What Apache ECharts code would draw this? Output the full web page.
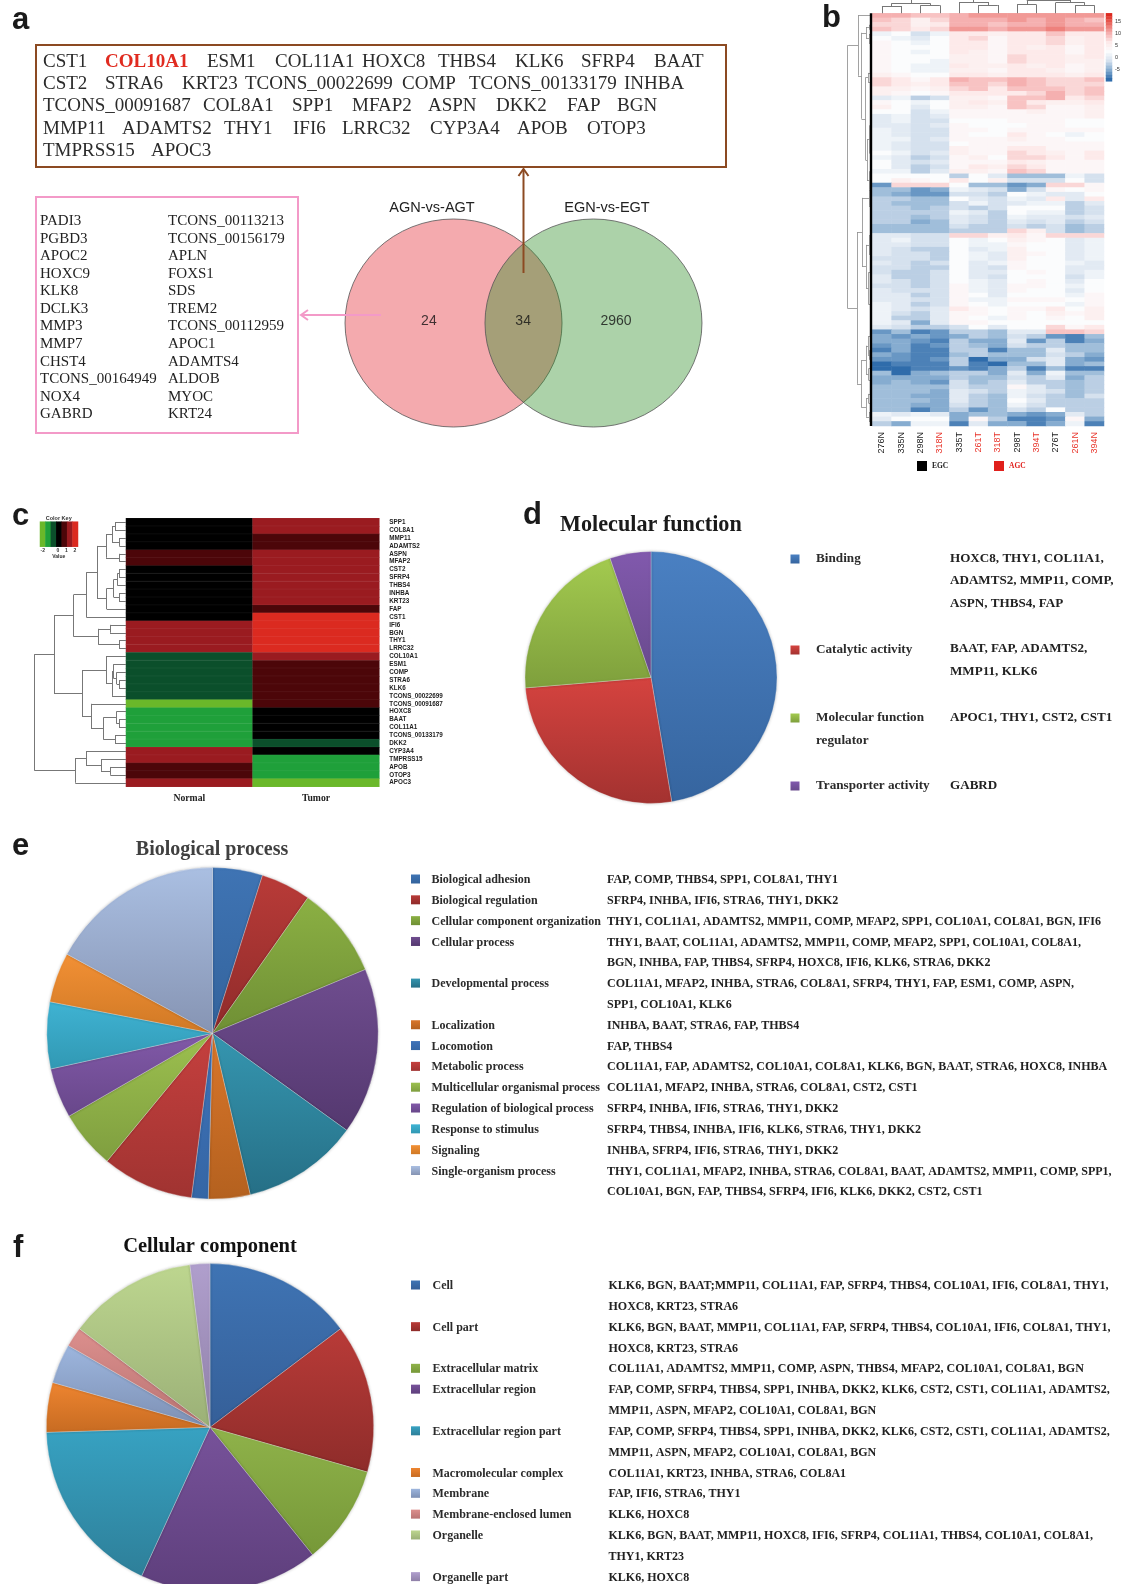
<!DOCTYPE html>
<html>
<head>
<meta charset="utf-8">
<title>Figure</title>
<script src="https://cdn.jsdelivr.net/npm/echarts@6/dist/echarts.min.js"></script>
<style>
html, body { margin: 0; padding: 0; background: #fff; }
#main { width: 1121px; height: 1584px; }
</style>
</head>
<body>
<div id="main"></div>
<script>
// panel a
const sharedGeneLines = [
    ['CST1', 'COL10A1', 'ESM1', 'COL11A1', 'HOXC8', 'THBS4', 'KLK6', 'SFRP4', 'BAAT'],
    ['CST2', 'STRA6', 'KRT23', 'TCONS_00022699', 'COMP', 'TCONS_00133179', 'INHBA'],
    ['TCONS_00091687', 'COL8A1', 'SPP1', 'MFAP2', 'ASPN', 'DKK2', 'FAP', 'BGN'],
    ['MMP11', 'ADAMTS2', 'THY1', 'IFI6', 'LRRC32', 'CYP3A4', 'APOB', 'OTOP3'],
    ['TMPRSS15', 'APOC3']
];
const agcGenesLeft = ['PADI3', 'PGBD3', 'APOC2', 'HOXC9', 'KLK8', 'DCLK3', 'MMP3', 'MMP7', 'CHST4', 'TCONS_00164949', 'NOX4', 'GABRD'];
const agcGenesRight = ['TCONS_00113213', 'TCONS_00156179', 'APLN', 'FOXS1', 'SDS', 'TREM2', 'TCONS_00112959', 'APOC1', 'ADAMTS4', 'ALDOB', 'MYOC', 'KRT24'];
const vennSets = ['AGN-vs-AGT', 'EGN-vs-EGT'];
const vennCounts = [24, 34, 2960];

// panel b
const bSamples = ['276N', '335N', '298N', '318N', '335T', '261T', '318T', '298T', '394T', '276T', '261N', '394N'];
const bRedSamples = ['318N', '261T', '318T', '394T', '261N', '394N'];
const bScaleTicks = [15, 10, 5, 0, -5];
const bScaleValues = [15, 14, 13, 12, 11, 10, 9, 8, 7, 6, 5, 4, 3, 2, 1, 0, -1, -2, -3, -4, -5, -6];
const bRows = [
    [9,9,8,8, 9,10,10,10,10,10,10,10],
    [8,7,5,7, 9,9,9,10,9,10,9,8],
    [7,7,5,6, 9,9,8,9,9,10,9,9],
    [8,7,6,7, 10,10,9,10,10,11,10,10],
    [2,3,0,2, 6,6,5,6,6,8,6,6],
    [3,2,1,3, 6,7,4,6,6,7,5,6],
    [4,3,2,3, 6,6,4,6,6,7,5,6],
    [4,3,3,3, 6,6,4,6,5,6,4,6],
    [4,3,2,3, 6,5,4,6,6,6,4,6],
    [4,3,3,3, 5,5,4,7,6,6,5,6],
    [4,3,3,2, 5,5,4,7,6,6,5,5],
    [4,3,2,2, 6,5,5,6,5,6,4,5],
    [4,3,2,2, 5,5,4,6,6,5,4,5],
    [5,4,3,3, 6,6,5,6,6,6,5,6],
    [7,6,4,6, 9,8,8,9,8,7,7,8],
    [7,6,5,6, 8,8,7,9,8,7,7,7],
    [5,5,4,5, 7,8,6,8,8,8,7,8],
    [5,4,3,4, 6,6,6,6,7,9,7,8],
    [1,2,-1,0, 5,5,4,8,8,9,6,7],
    [4,3,2,3, 5,6,5,8,6,5,5,6],
    [5,3,1,3, 5,5,4,8,7,4,4,5],
    [3,3,0,2, 4,4,4,4,5,4,4,5],
    [1,2,0,1, 4,4,4,4,4,4,4,5],
    [1,2,0,0, 3,3,3,4,4,4,3,3],
    [1,1,0,1, 4,3,3,3,4,4,3,3],
    [2,1,0,0, 4,4,3,4,4,4,4,4],
    [2,1,0,0, 4,3,3,6,4,3,2,3],
    [2,2,0,1, 4,4,4,5,4,4,3,3],
    [2,1,0,0, 3,4,4,4,4,4,4,4],
    [2,1,0,0, 5,4,4,6,6,4,4,4],
    [3,2,0,1, 5,4,4,7,6,5,4,6],
    [2,1,-1,0, 4,5,3,7,7,6,4,6],
    [3,1,0,1, 4,4,4,6,5,4,4,4],
    [3,1,-1,0, 4,6,5,7,6,4,4,4],
    [2,2,-1,1, 5,5,4,8,7,4,4,4],
    [3,3,3,3, -1,3,1,-2,-2,-2,2,0],
    [3,5,4,3, 6,3,5,0,0,0,3,0],
    [-4,7,7,7, 3,-2,-2,-4,-3,7,7,4],
    [-2,-2,-4,-3, 2,1,0,-3,0,4,3,4],
    [-2,-3,-4,-4, 0,0,-1,3,2,1,1,3],
    [-1,-1,-2,-2, 3,1,0,2,1,6,1,6],
    [-1,-2,-2,-2, 0,2,0,1,2,2,-1,1],
    [-1,-1,-2,-1, 0,-1,0,3,3,3,-1,0],
    [-1,-1,-1,-1, 2,1,-1,3,2,2,-1,0],
    [-1,-1,-2,-1, 1,0,-1,2,1,1,0,1],
    [-1,-1,-3,-2, 1,0,-1,1,0,1,-1,0],
    [-2,-2,-2,-2, 0,-1,-1,0,-1,0,-2,-1],
    [-2,-2,-2,-2, -1,-1,-1,7,5,0,-2,-1],
    [1,1,0,0, 7,7,5,6,4,7,7,7],
    [1,2,0,0, 3,2,3,5,4,3,1,2],
    [1,1,0,0, 3,2,2,4,3,3,1,2],
    [1,0,-1,-1, 3,1,2,5,3,3,1,2],
    [1,0,0,-1, 3,2,1,5,4,3,1,2],
    [0,0,0,-1, 3,2,1,5,3,3,1,2],
    [1,0,-1,0, 3,1,2,4,3,3,2,1],
    [0,0,-1,-1, 3,1,0,4,3,3,1,1],
    [0,-1,-1,0, 3,1,1,3,4,3,1,2],
    [1,-1,-1,0, 3,1,0,3,3,3,0,2],
    [1,0,-1,0, 3,2,1,3,4,3,1,3],
    [0,0,-1,0, 4,2,1,4,4,3,2,3],
    [1,0,0,0, 4,2,1,4,3,3,1,3],
    [1,1,-1,0, 4,3,1,3,3,3,2,4],
    [1,1,0,0, 4,2,2,4,4,4,3,4],
    [2,1,-1,0, 4,3,2,3,3,3,2,4],
    [2,1,0,1, 6,4,3,4,4,6,3,5],
    [2,0,-1,1, 4,4,3,4,3,5,4,5],
    [2,-1,-1,1, 4,3,2,4,3,4,3,5],
    [2,1,-3,1, 4,4,3,3,3,3,3,3],
    [1,0,-1,-1, 0,3,1,3,3,7,4,6],
    [-4,-2,-5,-4, -1,-1,-2,1,1,8,8,7],
    [-3,-4,-3,-4, -3,-1,-2,0,-1,-4,-5,-2],
    [-3,-3,-4,-5, -1,-3,-3,1,-4,-1,-5,-3],
    [-4,-3,-5,-4, -1,-2,-3,0,-1,-1,-2,-2],
    [-5,-3,-5,-5, -1,-1,-5,-2,-2,1,-2,-2],
    [-3,-4,-5,-5, -2,-1,-2,-2,-2,0,-1,-3],
    [-4,-4,-5,-4, -1,-6,-3,-3,0,1,-3,-4],
    [-6,-5,-5,-5, -1,-5,-6,-2,-2,1,-3,-2],
    [-6,-6,-5,-5, -4,-5,-3,-1,-5,-2,-5,-5],
    [-2,-6,-3,-2, -1,-1,-3,1,-3,2,-2,-2],
    [-3,-3,-3,-3, -1,-2,-2,0,-1,1,-3,-1],
    [-3,-2,-3,-4, 0,-2,-1,1,-1,-1,-2,-1],
    [-2,-2,-2,-2, 0,-1,-1,4,1,-1,-2,-1],
    [-2,-2,-2,-3, 1,0,-1,2,1,0,-2,-1],
    [-2,-2,-3,-3, 1,-1,-2,2,0,-1,-2,0],
    [-2,-2,-2,-3, 1,-1,-2,3,1,-1,-1,-1],
    [-2,-2,-3,-3, 0,-1,-2,2,0,-1,-1,-1],
    [-2,-2,-5,-3, -1,-4,-2,0,-1,3,-1,-1],
    [2,1,2,1, -3,-2,-2,-3,-4,-3,1,-1],
    [1,3,3,3, -3,4,-1,-5,-5,-4,4,-3],
    [-1,-3,2,2, -5,1,-3,-3,-5,-3,2,-5]
];
// 树: [高度, 左, 右], 数字是行/列的序号
const bLeftTree = [24.7,
    [14, 0,
        [10.5,
            [6, [2.5, 2, 3], [3, 4, 6]],
            [6.5, [4, [2, 10, 15], [2, 12, 17]], [5, [2.5, 24, 30], [2.5, 34, 38]]]
        ]
    ],
    [15,
        [10, [3, [2, 37, 39], [2, 41, 42]], [6, [3, 48, 52], [3.5, 56, [2, 61, 65]]]],
        [10.5,
            [6, [4, [2, 69, 71], [2.5, 73, 75]], [3.5, [2, 76, 78], [2, 79, 80]]],
            [6, [3.5, [2, 82, 83], [1.5, 84, 85]], [3, [2, 86, 87], [1.5, 88, 89]]]
        ]
    ]
];
const bTopTree = [14,
    [10, [7.3, 0, 1], [8, 2, 3]],
    [14,
        [11.3, 4, [8.3, 5, 6]],
        [13.3, [8.7, 7, 8], [10.7, 9, [8, 10, 11]]]
    ]
];

// panel c
const cGenes = ['SPP1', 'COL8A1', 'MMP11', 'ADAMTS2', 'ASPN', 'MFAP2', 'CST2', 'SFRP4', 'THBS4', 'INHBA', 'KRT23', 'FAP', 'CST1', 'IFI6', 'BGN', 'THY1', 'LRRC32', 'COL10A1', 'ESM1', 'COMP', 'STRA6', 'KLK6', 'TCONS_00022699', 'TCONS_00091687', 'HOXC8', 'BAAT', 'COL11A1', 'TCONS_00133179', 'DKK2', 'CYP3A4', 'TMPRSS15', 'APOB', 'OTOP3', 'APOC3'];
const cGroups = ['Normal', 'Tumor'];
const cNormal = [0, 0, 0, 0, 0.6, 0.6, 0, 0, 0, 0, 0, 0, 0, 1, 1, 1, 1, -1, -1, -1, -1, -1, -1, -2.4, -2, -2, -2, -2, -2, 1, 1, 0.6, 0.6, 1];
const cTumor = [1, 1, 0.6, 0.6, 1, 1, 1, 1, 1, 1, 1, 0.6, 2, 2, 2, 2, 2, 1, 0.6, 0.6, 0.6, 0.6, 0.6, 0.6, 0, 0, 0, 0, -1, 0, -2, -2, -2, -2.4];
const cKeyValues = [-2.4, -2, -1, 0, 0.6, 1, 2];
const cKeyTicks = ['-2', '0', '1', '2'];
const cTree = [91.7,
    [72,
        [52.3,
            [39.7,
                [29,
                    [20, [14, [11, 0, 1], [6.7, 2, 3]], [6.7, 4, 5]],
                    [19.3, [12.3, [8.7, [7, 6, 7], 8], [7, 9, 10]], 11]
                ],
                12
            ],
            [27.7, [16, 13, 14], [7, 15, 16]]
        ],
        [44,
            [20, 17, [14, [12.7, 18, [9.3, 19, [7, 20, 21]]], 22]],
            [35, 23, [22.7, [9.7, 24, [7, 25, 26]], [11, 27, 28]]]
        ]
    ],
    [50.7, [40, 29, [25, 30, [15.7, 31, 32]]], 33]
];

// panel d
const dTerms = ['Binding', 'Catalytic activity', 'Molecular function\nregulator', 'Transporter activity'];
const dCounts = [9, 5, 4, 1];
const dGenes = [
    ['HOXC8, THY1, COL11A1,', 'ADAMTS2, MMP11, COMP,', 'ASPN, THBS4, FAP'],
    ['BAAT, FAP, ADAMTS2,', 'MMP11, KLK6'],
    ['APOC1, THY1, CST2, CST1'],
    ['GABRD']
];

// panel e
const eTerms = ['Biological adhesion', 'Biological regulation', 'Cellular component organization', 'Cellular process', 'Developmental process', 'Localization', 'Locomotion', 'Metabolic process', 'Multicellular organismal process', 'Regulation of biological process', 'Response to stimulus', 'Signaling', 'Single-organism process'];
const eCounts = [6, 6, 11, 20, 14, 5, 2, 11, 7, 6, 8, 6, 21];
const eGenes = [
    ['FAP, COMP, THBS4, SPP1, COL8A1, THY1'],
    ['SFRP4, INHBA, IFI6, STRA6, THY1, DKK2'],
    ['THY1, COL11A1, ADAMTS2, MMP11, COMP, MFAP2, SPP1, COL10A1, COL8A1, BGN, IFI6'],
    ['THY1, BAAT, COL11A1, ADAMTS2, MMP11, COMP, MFAP2, SPP1, COL10A1, COL8A1,', 'BGN, INHBA, FAP, THBS4, SFRP4, HOXC8, IFI6, KLK6, STRA6, DKK2'],
    ['COL11A1, MFAP2, INHBA, STRA6, COL8A1, SFRP4, THY1, FAP, ESM1, COMP, ASPN,', 'SPP1, COL10A1, KLK6'],
    ['INHBA, BAAT, STRA6, FAP, THBS4'],
    ['FAP, THBS4'],
    ['COL11A1, FAP, ADAMTS2, COL10A1, COL8A1, KLK6, BGN, BAAT, STRA6, HOXC8, INHBA'],
    ['COL11A1, MFAP2, INHBA, STRA6, COL8A1, CST2, CST1'],
    ['SFRP4, INHBA, IFI6, STRA6, THY1, DKK2'],
    ['SFRP4, THBS4, INHBA, IFI6, KLK6, STRA6, THY1, DKK2'],
    ['INHBA, SFRP4, IFI6, STRA6, THY1, DKK2'],
    ['THY1, COL11A1, MFAP2, INHBA, STRA6, COL8A1, BAAT, ADAMTS2, MMP11, COMP, SPP1,', 'COL10A1, BGN, FAP, THBS4, SFRP4, IFI6, KLK6, DKK2, CST2, CST1']
];

// panel f
const fTerms = ['Cell', 'Cell part', 'Extracellular matrix', 'Extracellular region', 'Extracellular region part', 'Macromolecular complex', 'Membrane', 'Membrane-enclosed lumen', 'Organelle', 'Organelle part'];
const fCounts = [15, 15, 10, 18, 18, 5, 4, 2, 13, 2];
const fGenes = [
    ['KLK6, BGN, BAAT;MMP11, COL11A1, FAP, SFRP4, THBS4, COL10A1, IFI6, COL8A1, THY1,', 'HOXC8, KRT23, STRA6'],
    ['KLK6, BGN, BAAT, MMP11, COL11A1, FAP, SFRP4, THBS4, COL10A1, IFI6, COL8A1, THY1,', 'HOXC8, KRT23, STRA6'],
    ['COL11A1, ADAMTS2, MMP11, COMP, ASPN, THBS4, MFAP2, COL10A1, COL8A1, BGN'],
    ['FAP, COMP, SFRP4, THBS4, SPP1, INHBA, DKK2, KLK6, CST2, CST1, COL11A1, ADAMTS2,', 'MMP11, ASPN, MFAP2, COL10A1, COL8A1, BGN'],
    ['FAP, COMP, SFRP4, THBS4, SPP1, INHBA, DKK2, KLK6, CST2, CST1, COL11A1, ADAMTS2,', 'MMP11, ASPN, MFAP2, COL10A1, COL8A1, BGN'],
    ['COL11A1, KRT23, INHBA, STRA6, COL8A1'],
    ['FAP, IFI6, STRA6, THY1'],
    ['KLK6, HOXC8'],
    ['KLK6, BGN, BAAT, MMP11, HOXC8, IFI6, SFRP4, COL11A1, THBS4, COL10A1, COL8A1,', 'THY1, KRT23'],
    ['KLK6, HOXC8']
];

// 颜色和版面
const dColors = [['#4a80c2', '#36659f'], ['#d5433f', '#a33230'], ['#a3ca4f', '#7e9f3c'], ['#8159ad', '#684a8c']];
const eColors = [['#3f74b4', '#33639c'], ['#b93b38', '#8f2b2a'], ['#8bb043', '#6f8f35'], ['#6f4d8f', '#54386f'], ['#3596b0', '#266f86'], ['#d9762a', '#b4611f'], ['#3e72b8', '#3566a5'], ['#c5403e', '#a03331'], ['#9cc04f', '#7f9e3f'], ['#8159a8', '#68478a'], ['#3fb3d3', '#3198b3'], ['#f29035', '#d07925'], ['#aabfe2', '#8694b3']];
const fColors = [['#3f74b4', '#355f98'], ['#b93b38', '#8e2c2a'], ['#8fb24a', '#769838'], ['#77529a', '#5e3f7c'], ['#37a2c2', '#2e7f99'], ['#ee8530', '#c76b22'], ['#9db6de', '#7d90b4'], ['#dc8f8d', '#b97473'], ['#bdd68f', '#9bb077'], ['#b09fcd', '#8f80a8']];
const SERIF = '"Liberation Serif", serif';
const SANS = '"Liberation Sans", sans-serif';

const sharedWordX = [
    [43, 105, 207, 275, 362, 438, 515, 581, 654],
    [43, 105, 182, 245, 402, 469, 624],
    [43, 203, 292, 352, 428, 496, 567, 617],
    [43, 122, 224, 293, 342, 430, 517, 587],
    [43, 151]
];
const sharedLineY = [62, 84, 106, 129, 151];

const graphics = [];

function text(x, y, str, size, font, color, weight, align) {
    graphics.push({
        type: 'text', x: x, y: y, z: 100, silent: true,
        style: {
            text: str, fill: color || '#222', fontSize: size, fontFamily: font || SERIF,
            fontWeight: weight || 'normal', textAlign: align || 'left', textVerticalAlign: 'middle'
        }
    });
}

function box(x, y, w, h, color) {
    graphics.push({ type: 'rect', z: 90, silent: true, shape: { x: x, y: y, width: w, height: h }, style: { fill: 'none', stroke: color, lineWidth: 2 } });
}

function arrow(p1, p2, head, color) {
    graphics.push({ type: 'line', z: 95, silent: true, shape: { x1: p1[0], y1: p1[1], x2: p2[0], y2: p2[1] }, style: { stroke: color, lineWidth: 2 } });
    graphics.push({ type: 'polyline', z: 95, silent: true, shape: { points: head }, style: { fill: 'none', stroke: color, lineWidth: 2 } });
}

function marker(x, y, colors) {
    graphics.push({
        type: 'rect', z: 95, silent: true, shape: { x: x, y: y - 4.5, width: 9, height: 9 },
        style: { fill: new echarts.graphic.LinearGradient(0, 0, 0, 1, [{ offset: 0, color: colors[0] }, { offset: 1, color: colors[1] }]) }
    });
}

// 把树展开成线段, 叶子的高度是 0
function treeLines(node, toCoord, out) {
    if (typeof node === 'number') {
        return { pos: node + 0.5, h: 0 };
    }
    const a = treeLines(node[1], toCoord, out);
    const b = treeLines(node[2], toCoord, out);
    out.push({ coords: [toCoord(a.h, a.pos), toCoord(node[0], a.pos)] });
    out.push({ coords: [toCoord(b.h, b.pos), toCoord(node[0], b.pos)] });
    out.push({ coords: [toCoord(node[0], a.pos), toCoord(node[0], b.pos)] });
    return { pos: (a.pos + b.pos) / 2, h: node[0] };
}

function pieSeries(center, radius, names, counts, colors) {
    return {
        type: 'pie', center: center, radius: radius, startAngle: 90, clockwise: true, silent: true,
        label: { show: false }, labelLine: { show: false },
        itemStyle: { borderColor: 'rgba(255,255,255,0.28)', borderWidth: 1, shadowColor: 'rgba(0,0,0,0.22)', shadowBlur: 3 },
        data: names.map(function(name, i) {
            return {
                name: name.replace('\n', ' '), value: counts[i],
                itemStyle: { color: new echarts.graphic.LinearGradient(0, 0, 0, 1, [{ offset: 0, color: colors[i][0] }, { offset: 1, color: colors[i][1] }]) }
            };
        })
    };
}

function termList(terms, genes, colors, firstY, step, markerX, termX, geneX, termSize, geneSize) {
    let line = 0;
    terms.forEach(function(term, i) {
        const y = firstY + line * step;
        marker(markerX, y - 1, colors[i]);
        text(termX, y, term, termSize, SERIF, '#2b2b2b', 'bold');
        genes[i].forEach(function(g, j) {
            text(geneX, firstY + (line + j) * step, g, geneSize, SERIF, '#222', 'bold');
        });
        line += genes[i].length;
    });
}

// panel letters
text(12, 20, 'a', 31, SANS, '#1a1a1a', 'bold');
text(822, 18, 'b', 31, SANS, '#1a1a1a', 'bold');
text(12, 516, 'c', 31, SANS, '#1a1a1a', 'bold');
text(523, 515, 'd', 31, SANS, '#1a1a1a', 'bold');
text(12, 846, 'e', 31, SANS, '#1a1a1a', 'bold');
text(13, 1248, 'f', 31, SANS, '#1a1a1a', 'bold');

// panel a
box(36, 45, 690, 122, '#8c4a22');
box(36, 197, 262, 236, '#f39ac8');
sharedGeneLines.forEach(function(words, i) {
    words.forEach(function(w, j) {
        const red = w === 'COL10A1';
        text(sharedWordX[i][j], sharedLineY[i], w, 19, SERIF, red ? '#e02b20' : '#2b2b2b', red ? 'bold' : 'normal');
    });
});
agcGenesLeft.forEach(function(g, i) {
    text(40, 221 + i * 17.58, g, 15, SERIF, '#222');
    text(168, 221 + i * 17.58, agcGenesRight[i], 15, SERIF, '#222');
});
text(432, 208, vennSets[0], 14.5, SANS, '#222', 'normal', 'center');
text(607, 208, vennSets[1], 14.5, SANS, '#222', 'normal', 'center');
arrow([523.5, 273], [523.5, 169], [[518.5, 176], [523.5, 169], [528.5, 176]], '#8c4a22');
arrow([381, 315], [301, 315], [[308, 310], [301, 315], [308, 320]], '#f39ac8');

// panel b
bScaleTicks.forEach(function(t, i) {
    text(1115, 21 + i * 12.1, String(t), 5.5, SANS, '#333');
});
graphics.push({ type: 'rect', z: 95, silent: true, shape: { x: 917, y: 461, width: 10, height: 10 }, style: { fill: '#000' } });
graphics.push({ type: 'rect', z: 95, silent: true, shape: { x: 994, y: 461, width: 10, height: 10 }, style: { fill: '#e0201c' } });
text(932, 466, 'EGC', 7.5, SERIF, '#222', 'bold');
text(1009, 466, 'AGC', 7.5, SERIF, '#e0201c', 'bold');

// panel c
text(58.7, 518, 'Color Key', 5.5, SANS, '#333', 'bold', 'center');
text(58.7, 557, 'Value', 5, SANS, '#333', 'bold', 'center');
cKeyTicks.forEach(function(t, i) {
    text([42.7, 58, 66.3, 75][i], 551, t, 5, SANS, '#333', 'bold', 'center');
});

// panel d
text(560, 525, 'Molecular function', 22.2, SERIF, '#1a1a1a', 'bold');
marker(790.5, 559, dColors[0]);
marker(790.5, 650, dColors[1]);
marker(790.5, 718, dColors[2]);
marker(790.5, 786, dColors[3]);
text(816, 558.5, 'Binding', 13.2, SERIF, '#2b2b2b', 'bold');
text(816, 649.5, 'Catalytic activity', 13.2, SERIF, '#2b2b2b', 'bold');
text(816, 717.5, 'Molecular function', 13.2, SERIF, '#2b2b2b', 'bold');
text(816, 740.5, 'regulator', 13.2, SERIF, '#2b2b2b', 'bold');
text(816, 785.5, 'Transporter activity', 13.2, SERIF, '#2b2b2b', 'bold');
[[558.3, 580.7, 603.3], [649, 671.7], [717.3], [785.7]].forEach(function(ys, i) {
    ys.forEach(function(y, j) {
        text(950, y, dGenes[i][j], 13.1, SERIF, '#222', 'bold');
    });
});

// panels e, f
text(212, 850, 'Biological process', 20, SERIF, '#404040', 'bold', 'center');
termList(eTerms, eGenes, eColors, 880, 20.82, 411, 431.5, 607, 12, 12);
text(210, 1247, 'Cellular component', 20.5, SERIF, '#111', 'bold', 'center');
termList(fTerms, fGenes, fColors, 1286, 20.83, 411, 432.5, 608.5, 12, 12);

// 热图数据
const bHeatData = [];
bRows.forEach(function(row, r) {
    row.forEach(function(v, c) { bHeatData.push([c, r, v]); });
});
const cHeatData = [];
cGenes.forEach(function(g, r) {
    cHeatData.push([0, r, cNormal[r]]);
    cHeatData.push([1, r, cTumor[r]]);
});

const bLeftLines = [{ coords: [[1, 0], [1, bRows.length]] }];
treeLines(bLeftTree, function(h, p) { return [h, p]; }, bLeftLines);
const bTopLines = [];
treeLines(bTopTree, function(h, p) { return [p, h]; }, bTopLines);
const cTreeLines = [];
treeLines(cTree, function(h, p) { return [h, p]; }, cTreeLines);

function hiddenValueAxis(gridIndex, min, max, inverse) {
    return { type: 'value', gridIndex: gridIndex, min: min, max: max, inverse: !!inverse, show: false };
}

function hiddenCategoryAxis(gridIndex, data, inverse) {
    return { type: 'category', gridIndex: gridIndex, data: data, inverse: !!inverse, show: false };
}

const option = {
    animation: false,
    backgroundColor: '#fff',
    grid: [
        { left: 872.3, top: 13.3, width: 231.7, height: 412.7 },  // 0 b heat
        { left: 1106, top: 13.3, width: 6, height: 68 },          // 1 b scale
        { left: 126, top: 518.3, width: 253.3, height: 268.4 },   // 2 c heat
        { left: 40, top: 521.7, width: 38, height: 25 },          // 3 c key
        { left: 838, top: 13.3, width: 34, height: 412.7 },       // 4 b left tree
        { left: 872.3, top: 0, width: 231.7, height: 13.3 },      // 5 b top tree
        { left: 34, top: 518.3, width: 92, height: 268.4 },       // 6 c tree
        { left: 345, top: 219, width: 357, height: 208 }          // 7 venn
    ],
    xAxis: [
        {
            type: 'category', gridIndex: 0, data: bSamples,
            axisLine: { show: false }, axisTick: { show: false },
            axisLabel: {
                interval: 0, rotate: 90, margin: 6, fontSize: 9, fontFamily: SANS,
                color: function(v) { return bRedSamples.indexOf(v) >= 0 ? '#e8342a' : '#222'; }
            }
        },
        hiddenCategoryAxis(1, ['scale']),
        {
            type: 'category', gridIndex: 2, data: cGroups,
            axisLine: { show: false }, axisTick: { show: false },
            axisLabel: { interval: 0, margin: 7, fontSize: 9.7, fontWeight: 'bold', fontFamily: SERIF, color: '#222' }
        },
        hiddenCategoryAxis(3, cKeyValues.map(String)),
        hiddenValueAxis(4, 0, 34, true),
        hiddenValueAxis(5, 0, bSamples.length),
        hiddenValueAxis(6, 0, 92, true),
        hiddenValueAxis(7, 0, 100)
    ],
    yAxis: [
        hiddenCategoryAxis(0, bRows.map(function(r, i) { return String(i); }), true),
        hiddenCategoryAxis(1, bScaleValues.map(String), true),
        {
            type: 'category', gridIndex: 2, data: cGenes, inverse: true, position: 'right',
            axisLine: { show: false }, axisTick: { show: false },
            axisLabel: { interval: 0, margin: 10, fontSize: 6.3, fontWeight: 'bold', fontFamily: SANS, color: '#222' }
        },
        hiddenCategoryAxis(3, ['key']),
        hiddenValueAxis(4, 0, bRows.length, true),
        hiddenValueAxis(5, 0, 13.3),
        hiddenValueAxis(6, 0, cGenes.length, true),
        hiddenValueAxis(7, 0, 100)
    ],
    visualMap: [
        {
            show: false, type: 'continuous', seriesIndex: [0, 1], dimension: 2, min: -6, max: 15,
            inRange: { color: ['#2f6cab', '#86acd0', '#d5e1ee', '#fbfcfd', '#fdeaea', '#f5b0b0', '#ea6a62', '#dd2a20'] }
        },
        {
            show: false, type: 'piecewise', seriesIndex: [2, 3], dimension: 2,
            pieces: [
                { value: -2.4, color: '#6ab82a' },
                { value: -2, color: '#1fa03a' },
                { value: -1, color: '#0b4f2b' },
                { value: 0, color: '#000000' },
                { value: 0.6, color: '#4c0609' },
                { value: 1, color: '#9a1b20' },
                { value: 2, color: '#db2a20' }
            ]
        }
    ],
    graphic: { elements: graphics },
    series: [
        { type: 'heatmap', xAxisIndex: 0, yAxisIndex: 0, data: bHeatData, silent: true },
        { type: 'heatmap', xAxisIndex: 1, yAxisIndex: 1, silent: true, data: bScaleValues.map(function(v, i) { return [0, i, v]; }) },
        { type: 'heatmap', xAxisIndex: 2, yAxisIndex: 2, data: cHeatData, silent: true, itemStyle: { borderColor: 'rgba(255,255,255,0.1)', borderWidth: 0.5 } },
        { type: 'heatmap', xAxisIndex: 3, yAxisIndex: 3, silent: true, data: cKeyValues.map(function(v, i) { return [i, 0, v]; }) },
        { type: 'lines', coordinateSystem: 'cartesian2d', xAxisIndex: 4, yAxisIndex: 4, silent: true, data: bLeftLines.slice(1), lineStyle: { color: '#8a8a8a', width: 0.8, opacity: 1 } },
        { type: 'lines', coordinateSystem: 'cartesian2d', xAxisIndex: 4, yAxisIndex: 4, silent: true, data: bLeftLines.slice(0, 1), lineStyle: { color: '#000', width: 2.4, opacity: 1 } },
        { type: 'lines', coordinateSystem: 'cartesian2d', xAxisIndex: 5, yAxisIndex: 5, silent: true, data: bTopLines, lineStyle: { color: '#777', width: 1, opacity: 1 } },
        { type: 'lines', coordinateSystem: 'cartesian2d', xAxisIndex: 6, yAxisIndex: 6, silent: true, data: cTreeLines, lineStyle: { color: '#777', width: 1, opacity: 1 } },
        {
            type: 'scatter', xAxisIndex: 7, yAxisIndex: 7, silent: true, symbol: 'circle', symbolSize: [217, 208],
            data: [[30.4, 50]], itemStyle: { color: '#f4aaae', opacity: 1, borderColor: '#555', borderWidth: 0.8 }
        },
        {
            type: 'scatter', xAxisIndex: 7, yAxisIndex: 7, silent: true, symbol: 'circle', symbolSize: [217, 208],
            data: [[69.6, 50]], itemStyle: { color: 'rgba(47,142,40,0.4)', opacity: 1, borderColor: '#555', borderWidth: 0.8 }
        },
        {
            type: 'scatter', xAxisIndex: 7, yAxisIndex: 7, silent: true, symbolSize: 0, z: 5,
            data: [[23.5, 51, vennCounts[0]], [49.9, 51, vennCounts[1]], [75.9, 51, vennCounts[2]]],
            label: {
                show: true, position: 'inside', fontSize: 14, fontFamily: SANS, color: '#111',
                formatter: function(p) { return String(p.value[2]); }
            }
        },
        pieSeries([651, 677.5], 126, dTerms, dCounts, dColors),
        pieSeries([212.5, 1033.3], 165.7, eTerms, eCounts, eColors),
        pieSeries([210, 1427.3], 163.7, fTerms, fCounts, fColors)
    ]
};

const myChart = echarts.init(document.getElementById('main'));
myChart.setOption(option);
</script>
</body>
</html>
